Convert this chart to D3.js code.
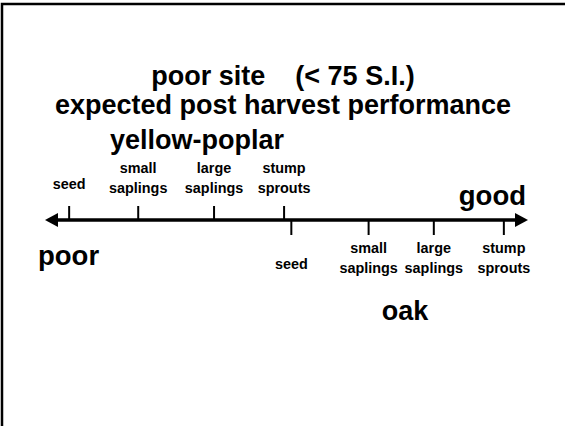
<!DOCTYPE html>
<html><head><meta charset="utf-8">
<script src="https://cdn.jsdelivr.net/npm/d3@7"></script>
<style>html,body{margin:0;padding:0;background:#fff;}svg{display:block;font-family:Arial,"Liberation Sans",sans-serif;font-weight:bold;}</style>
</head><body>
<svg id="c" width="565" height="426"></svg>
<script>
const stages = ["seed", "small saplings", "large saplings", "stump sprouts"];
const poplarValues = [5, 19.3, 35, 49.5];
const oakValues = [51, 67, 80.5, 95];
const titleLines = ["poor site    (< 75 S.I.)", "expected post harvest performance"];
const scaleEnds = ["poor", "good"];

const svg = d3.select("#c");
const x = d3.scaleLinear().domain([0, 100]).range([45, 528]);
const axisY = 220;

// frame (left and top edges)
svg.append("path").attr("d", "M2,426 V4 H565").attr("fill", "none").attr("stroke", "#000").attr("stroke-width", 2.5);

// title
svg.append("text").attr("x", 283).attr("y", 85).attr("text-anchor", "middle").attr("font-size", 27).style("white-space", "pre").text(titleLines[0]);
svg.append("text").attr("x", 283).attr("y", 114).attr("text-anchor", "middle").attr("font-size", 27).text(titleLines[1]);

// main line with arrowheads
svg.append("line").attr("x1", x(0) + 8).attr("x2", x(100) - 8).attr("y1", axisY).attr("y2", axisY).attr("stroke", "#000").attr("stroke-width", 3.5);
svg.append("path").attr("d", `M${x(0)},${axisY} l13,-7 v14 z`).attr("fill", "#000");
svg.append("path").attr("d", `M${x(100)},${axisY} l-13,-7 v14 z`).attr("fill", "#000");

// poplar ticks (above)
svg.selectAll(".tp").data(poplarValues).join("line").attr("x1", d => x(d)).attr("x2", d => x(d)).attr("y1", axisY - 14).attr("y2", axisY).attr("stroke", "#000").attr("stroke-width", 2);
// oak ticks (below)
svg.selectAll(".to").data(oakValues).join("line").attr("x1", d => x(d)).attr("x2", d => x(d)).attr("y1", axisY).attr("y2", axisY + 15).attr("stroke", "#000").attr("stroke-width", 2);

function labels(vals, baseTwo, baseOne) {
  stages.forEach((s, i) => {
    const words = s.split(" ");
    const t = svg.append("text").attr("text-anchor", "middle").attr("font-size", 14.4);
    if (words.length === 1) {
      t.attr("x", x(vals[i])).attr("y", baseOne).text(s);
    } else {
      t.append("tspan").attr("x", x(vals[i])).attr("y", baseTwo).text(words[0]);
      t.append("tspan").attr("x", x(vals[i])).attr("y", baseTwo + 20).text(words[1]);
    }
  });
}
labels(poplarValues, 173, 189);
labels(oakValues, 253, 269);

svg.append("text").attr("x", 197).attr("y", 149).attr("text-anchor", "middle").attr("font-size", 27).text("yellow-poplar");
svg.append("text").attr("x", 405).attr("y", 320).attr("text-anchor", "middle").attr("font-size", 27).text("oak");
svg.append("text").attr("x", 38).attr("y", 265).attr("font-size", 27.5).text(scaleEnds[0]);
svg.append("text").attr("x", 526).attr("y", 205).attr("text-anchor", "end").attr("font-size", 27.5).text(scaleEnds[1]);
</script>
</body></html>
